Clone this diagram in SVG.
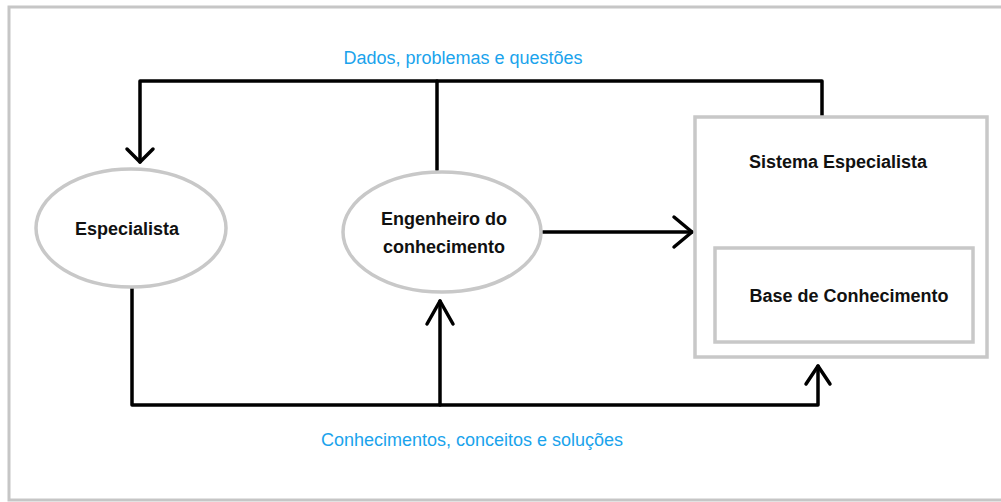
<svg xmlns="http://www.w3.org/2000/svg" width="1001" height="502" viewBox="0 0 1001 502">
<style>
.frame{fill:#fff;stroke:#c6c6c6;stroke-width:3}
.node{fill:#fff;stroke:#c8c8c8;stroke-width:3.5}
.lbl{font-family:"Liberation Sans",Arial,sans-serif;font-weight:bold;font-size:18px;fill:#111;text-anchor:middle}
.cl{font-family:"Liberation Sans",Arial,sans-serif;font-size:18px;fill:#1aa3ec;text-anchor:middle}
.ln{fill:none;stroke:#000;stroke-width:3.5;stroke-linecap:round;stroke-linejoin:round}
</style>
<rect width="1001" height="502" fill="#fff"/>
<rect class="frame" x="9" y="7" width="1000" height="493"/>
<g id="connectors">
<path class="ln" d="M140 162 V81 H822 V116"/>
<path class="ln" d="M437 81 V170"/>
<path class="ln" d="M127 149 L140 162 L153 149"/>
<path class="ln" d="M543 232 H692"/>
<path class="ln" d="M674 217 L692 232 L674 247"/>
<path class="ln" d="M132 288 V405 H818 V366"/>
<path class="ln" d="M440 405 V301"/>
<path class="ln" d="M427 324 L440 301 L453 324"/>
<path class="ln" d="M806 384 L818 366 L830 384"/>
<text class="cl" x="463" y="64">Dados, problemas e questões</text>
<text class="cl" x="472" y="446">Conhecimentos, conceitos e soluções</text>
</g>
<g id="especialista">
<ellipse class="node" cx="131" cy="228" rx="95" ry="59"/>
<text class="lbl" x="127" y="235">Especialista</text>
</g>
<g id="engenheiro">
<ellipse class="node" cx="442" cy="232" rx="99" ry="60"/>
<text class="lbl" x="444" y="225">Engenheiro do</text>
<text class="lbl" x="444" y="253">conhecimento</text>
</g>
<g id="sistema">
<rect class="node" x="695" y="117" width="292" height="240"/>
<text class="lbl" x="838" y="168">Sistema Especialista</text>
</g>
<g id="base">
<rect class="node" x="715" y="248" width="258" height="94"/>
<text class="lbl" x="849" y="302">Base de Conhecimento</text>
</g>
</svg>
